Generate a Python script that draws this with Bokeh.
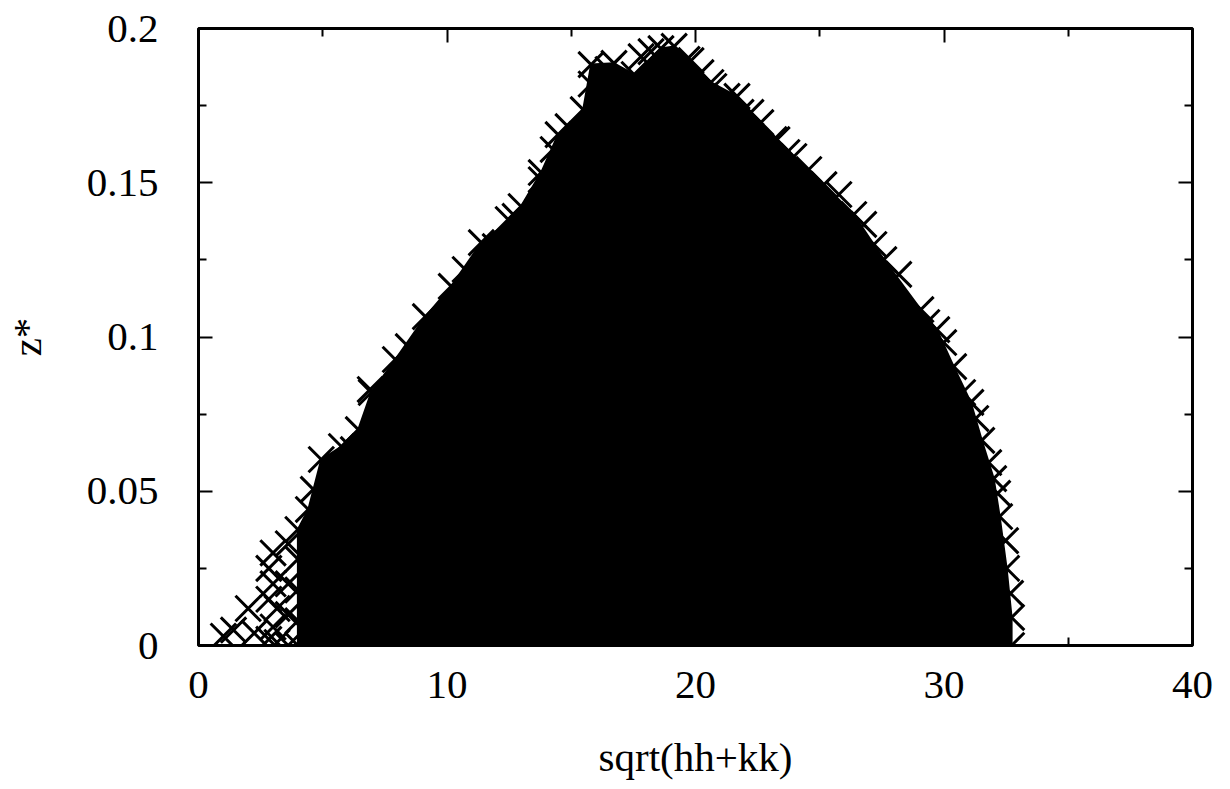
from bokeh.plotting import figure
from bokeh.models import FixedTicker, LinearAxis, CustomJSTickFormatter, Range1d
from bokeh.embed import file_html
from bokeh.resources import INLINE

# Outline of the dense reflection cloud: z* against sqrt(hh+kk)
edge_q = [4.0, 4.0, 4.0, 4.42, 4.94, 5.75, 6.43, 6.95, 7.92, 9.13, 10.17, 11.38,
          12.74, 13.79, 14.47, 15.48, 15.80, 16.72, 17.53, 18.61, 19.14, 19.82,
          20.62, 21.67, 22.23, 23.28, 23.96, 25.17, 26.37, 27.58, 29.07, 29.71,
          30.39, 31.08, 31.52, 32.00, 32.24, 32.52, 32.72, 32.72]
edge_z = [0.0, 0.018, 0.0376, 0.0441, 0.0603, 0.0645, 0.0700, 0.0820, 0.0927,
          0.1066, 0.1164, 0.1306, 0.1391, 0.1533, 0.1656, 0.1737, 0.1883, 0.1887,
          0.1851, 0.1935, 0.1942, 0.1896, 0.1825, 0.1780, 0.1728, 0.1640, 0.1585,
          0.1494, 0.1397, 0.1251, 0.1089, 0.1024, 0.0904, 0.0788, 0.0665, 0.0541,
          0.0418, 0.0250, 0.0091, 0.0]

# Further reflections sitting on the rim of the cloud
rim_q = [4.0, 4.0, 4.62, 6.23, 6.91, 8.44, 10.73, 11.94, 12.46, 12.98, 13.79,
         14.27, 14.87, 15.80, 16.48, 17.81, 18.21, 19.66, 20.22, 20.74, 21.27,
         21.83, 22.63, 23.16, 23.68, 24.56, 25.77, 26.77, 27.18, 28.18, 29.31,
         29.99, 30.75, 31.28, 31.80, 32.16, 32.48, 32.68]
rim_z = [0.008, 0.028, 0.0506, 0.0635, 0.083, 0.0969, 0.1219, 0.1293, 0.1381,
         0.1423, 0.151, 0.1608, 0.1682, 0.182, 0.1867, 0.1909, 0.1925, 0.19,
         0.1857, 0.1812, 0.178, 0.1728, 0.1695, 0.164, 0.1598, 0.1543, 0.1462,
         0.1365, 0.13, 0.1203, 0.1047, 0.0982, 0.082, 0.0736, 0.0593, 0.0493,
         0.034, 0.0169]

# Sparse low-order reflections left of the main cloud
lone_q = [1.0, 1.41, 2.0, 2.24, 2.83, 2.83, 2.83, 3.0, 3.0, 3.0, 3.16, 3.16,
          3.61, 3.61, 3.61, 3.61]
lone_z = [0.003, 0.005, 0.012, 0.004, 0.025, 0.015, 0.002, 0.030, 0.020, 0.006,
          0.012, 0.001, 0.0, 0.010, 0.020, 0.033]

x_major = [0, 10, 20, 30, 40]
x_minor = [5, 15, 25, 35]
y_major = [0, 0.05, 0.1, 0.15, 0.2]
y_minor = [0.025, 0.075, 0.125, 0.175]
x_title = "sqrt(hh+kk)"
y_title = "z*"

FONT = "Liberation Serif"
FS = "41px"

p = figure(width=1230, height=789, output_backend="svg", toolbar_location=None,
           x_range=Range1d(0, 40), y_range=Range1d(0, 0.2),
           min_border_left=197, min_border_right=38, min_border_top=28,
           min_border_bottom=144, x_axis_location=None, y_axis_location=None)
p.grid.visible = False
p.outline_line_color = "black"
p.outline_line_width = 3
p.background_fill_color = "white"
p.border_fill_color = "white"

fmt = CustomJSTickFormatter(code="return tick.toString()")
blank = CustomJSTickFormatter(code="return ''")


def style(ax, labels):
    ax.axis_line_color = None
    ax.major_tick_in = 14
    ax.major_tick_out = 0
    ax.minor_tick_in = 8
    ax.minor_tick_out = 0
    ax.major_tick_line_width = 2
    ax.minor_tick_line_width = 2
    ax.major_label_text_font = FONT
    ax.major_label_text_font_size = FS if labels else "0px"
    ax.major_label_text_color = "black"
    ax.axis_label_text_font = FONT
    ax.axis_label_text_font_size = FS
    ax.axis_label_text_font_style = "normal"
    ax.axis_label_text_color = "black"


xb = LinearAxis(ticker=FixedTicker(ticks=x_major, minor_ticks=x_minor), formatter=fmt,
                axis_label=x_title)
style(xb, True)
xb.major_label_standoff = 26
xb.axis_label_standoff = 33
p.add_layout(xb, "below")

yl = LinearAxis(ticker=FixedTicker(ticks=y_major, minor_ticks=y_minor), formatter=fmt,
                axis_label=y_title)
style(yl, True)
yl.major_label_standoff = 40
yl.axis_label_standoff = 34
p.add_layout(yl, "left")

xt = LinearAxis(ticker=FixedTicker(ticks=x_major, minor_ticks=x_minor), formatter=blank)
style(xt, False)
p.add_layout(xt, "above")

yr = LinearAxis(ticker=FixedTicker(ticks=y_major, minor_ticks=y_minor), formatter=blank)
style(yr, False)
p.add_layout(yr, "right")

# solid body of the cloud
p.patch([edge_q[0]] + edge_q, [0.0] + edge_z, fill_color="black", line_color="black",
        line_width=2)
# reflections on the rim and isolated ones
MS = 36
p.scatter(edge_q, edge_z, marker="x", size=MS, line_color="black", line_width=3)
p.scatter(rim_q, rim_z, marker="x", size=MS, line_color="black", line_width=3)
p.scatter(lone_q, lone_z, marker="x", size=MS, line_color="black", line_width=3)

open("out.html", "w").write(file_html(p, INLINE))
